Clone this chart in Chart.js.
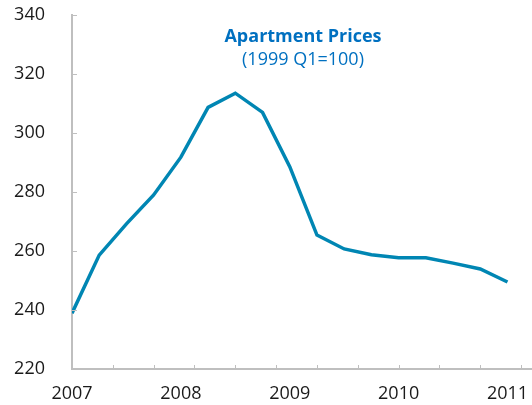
<!DOCTYPE html>
<html>
<head>
<meta charset="utf-8">
<script src="https://cdn.jsdelivr.net/npm/chart.js@4.4.0/dist/chart.umd.min.js"></script>
<style>
  html, body { margin: 0; padding: 0; background: #fff; }
  #wrap { width: 532px; height: 405px; }
</style>
</head>
<body>
<div id="wrap"><canvas id="priceChart" width="532" height="405"></canvas></div>
<script>
//data, quarterly from 2007 Q1 to 2011 Q1
var quarters = [0, 1, 2, 3, 4, 5, 6, 7, 8, 9, 10, 11, 12, 13, 14, 15, 16];
var prices = [238.9, 258.6, 269.2, 279.0, 291.8, 308.7, 313.5, 307.0, 288.6,
  265.4, 260.7, 258.7, 257.7, 257.7, 255.9, 253.9, 249.5];
var yearLabels = ["2007", "2008", "2009", "2010", "2011"];
var yTicks = [220, 240, 260, 280, 300, 320, 340];
var chartTitle = "Apartment Prices";
var chartSubtitle = "(1999 Q1=100)";

var points = [];
for (var i = 0; i < quarters.length; i++) {
  points.push({ x: quarters[i], y: prices[i] });
}

var axisGray = "#bfbfbf";
var blue = "#0070c0";
var lineColor = "#0086b3";

//inward tick marks + title inside the plot
var plotExtras = {
  id: "plotExtras",
  afterDraw: (chart) => {
    var ctx = chart.ctx;
    var area = chart.chartArea;
    var xs = chart.scales.xt;
    var ys = chart.scales.y;
    ctx.save();
    ctx.strokeStyle = axisGray;
    ctx.lineWidth = 1;
    xs.ticks.forEach(function (t, idx) {
      if (idx == 0) return;
      var px = Math.round(xs.getPixelForTick(idx)) + 0.5;
      ctx.beginPath();
      ctx.moveTo(px, area.bottom);
      ctx.lineTo(px, area.bottom - 4);
      ctx.stroke();
    });
    ys.ticks.forEach(function (t, idx) {
      var py = Math.round(ys.getPixelForTick(idx)) + 0.5;
      ctx.beginPath();
      ctx.moveTo(area.left, py);
      ctx.lineTo(area.left + 5, py);
      ctx.stroke();
    });
    var cx = (area.left + area.right) / 2;
    ctx.fillStyle = blue;
    ctx.textAlign = "center";
    ctx.textBaseline = "middle";
    ctx.font = "bold 18px 'Open Sans'";
    ctx.fillText(chartTitle, cx + 1, area.top + 22);
    ctx.font = "18px 'Open Sans'";
    ctx.fillText(chartSubtitle, cx + 1, area.top + 45);
    ctx.restore();
  }
};

var ctx = document.getElementById("priceChart").getContext("2d");
var myChart = new Chart(ctx, {
  type: "line",
  data: {
    datasets: [{
      data: points,
      borderColor: lineColor,
      borderWidth: 3.5,
      pointRadius: 0,
      tension: 0,
      fill: false,
      xAxisID: "x",
      yAxisID: "y"
    }]
  },
  options: {
    responsive: false,
    animation: false,
    layout: { padding: { left: 0, right: 0, top: 15, bottom: 0 } },
    plugins: {
      legend: { display: false },
      tooltip: { enabled: false }
    },
    scales: {
      x: {
        type: "linear",
        position: "bottom",
        min: 0,
        max: 16.9,
        afterBuildTicks: (scale) => {
          scale.ticks = [0, 4, 8, 12, 16].map((v) => ({ value: v }));
        },
        afterFit: (scale) => {
          scale.height = 36;
          scale.paddingLeft = 0;
          scale.paddingRight = 0;
        },
        ticks: {
          autoSkip: false,
          maxRotation: 0,
          padding: 14,
          color: "#1a1a1a",
          font: { family: "'Open Sans'", size: 18 },
          callback: (v) => yearLabels[v / 4]
        },
        grid: { display: false, drawTicks: false },
        border: { display: true, color: axisGray, width: 2 }
      },
      xt: {
        type: "linear",
        position: "bottom",
        min: 0,
        max: 16.9,
        display: true,
        afterBuildTicks: (scale) => {
          var t = [];
          for (var v = 0; v <= 16.9; v += 1.5) t.push({ value: v });
          scale.ticks = t;
        },
        afterFit: (scale) => {
          scale.height = 0;
          scale.paddingLeft = 0;
          scale.paddingRight = 0;
        },
        ticks: { display: false },
        grid: { display: false, drawTicks: false },
        border: { display: false }
      },
      y: {
        min: 220,
        max: 340,
        afterBuildTicks: (scale) => {
          scale.ticks = yTicks.map((v) => ({ value: v }));
        },
        afterFit: (scale) => {
          scale.width = 72;
          scale.paddingTop = 0;
          scale.paddingBottom = 0;
        },
        ticks: {
          padding: 27,
          color: "#1a1a1a",
          font: { family: "'Open Sans'", size: 18 }
        },
        grid: { display: false, drawTicks: false },
        border: { display: true, color: axisGray, width: 2 }
      }
    }
  },
  plugins: [plotExtras]
});
</script>
</body>
</html>
